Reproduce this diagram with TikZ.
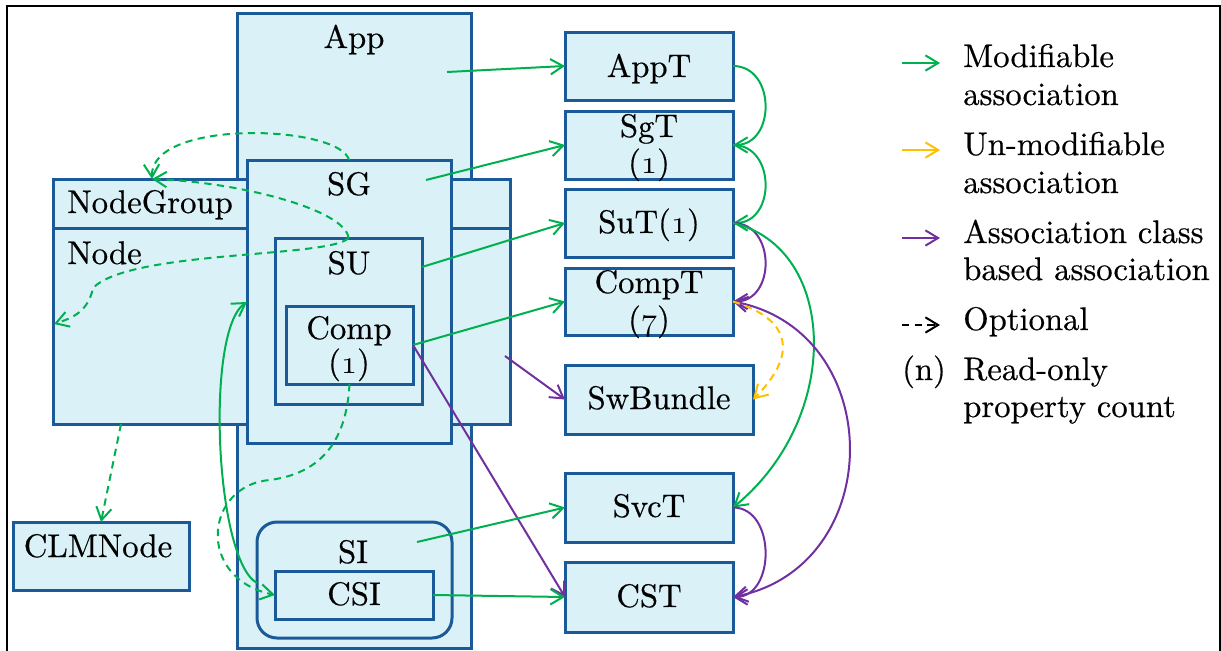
\documentclass[tikz,border=0pt]{standalone}
\usepackage{fontspec}
\setmainfont{lmroman10-regular.otf}[FakeBold=0.5]
\usetikzlibrary{arrows.meta,fit}

\definecolor{boxfill}{HTML}{DAF2F7}
\definecolor{boxline}{HTML}{1B5A98}
\definecolor{assocgreen}{HTML}{00B050}
\definecolor{assocpurple}{HTML}{7030A0}
\definecolor{assocorange}{HTML}{FFC000}

% old-style figures for the read-only property counts
\newcommand{\osnum}[1]{{\usefont{OML}{lmm}{m}{it}#1}}

\tikzset{
  box/.style={draw=boxline, fill=boxfill, line width=2.25pt, inner sep=0pt, outer sep=0pt},
  txt/.style={font=\fontsize{24.5}{28}\selectfont, inner sep=0pt, anchor=base},
  lgd/.style={txt, anchor=base west},
  link/.style={line width=1.5pt, -{Straight Barb[length=9.5pt,width=11.5pt]}},
  modif/.style={link, draw=assocgreen},
  unmodif/.style={link, draw=assocorange},
  assocls/.style={link, draw=assocpurple},
  optional/.style={dash pattern=on 5.5pt off 4pt},
  divider/.style={draw=boxline, line width=2.25pt},
}

\begin{document}
\begin{tikzpicture}[x=0.75pt,y=-0.75pt]
\useasboundingbox (0,0) rectangle (1221,650);

% outer frame (open at the bottom)
\draw[line width=1.5pt] (7,660) -- (7,6) -- (1220,6) -- (1220,660);

% ---- containment boxes ----
\node[box, fit={(237,13) (471,648)}] (app) {};
\node[box, fit={(53,179) (510,424)}] (ng) {};
\draw[divider] (53,228) -- (510,228);
\node[box, fit={(247,160) (451,443)}] (sg) {};
\node[box, fit={(275,238) (422,404)}] (su) {};
\node[box, fit={(286,306) (413,384)}] (comp) {};
\node[box, rounded corners=15pt, fit={(257,522) (452,638)}] (si) {};
\node[box, fit={(275,571) (433,619)}] (csi) {};
\node[box, fit={(13,522) (189,590)}] (clm) {};

% ---- type boxes ----
\node[box, fit={(565,32) (733,100)}] (appt) {};
\node[box, fit={(565,111) (733,179)}] (sgt) {};
\node[box, fit={(565,189) (733,257)}] (sut) {};
\node[box, fit={(565,268) (733,335)}] (compt) {};
\node[box, fit={(565,365) (753,434)}] (swb) {};
\node[box, fit={(565,473) (733,542)}] (svct) {};
\node[box, fit={(565,562) (733,632)}] (cst) {};

% ---- labels ----
\node[txt] (appL) at (354,48) {App};
\node[txt, anchor=base west] (ngL) at (67,213) {NodeGroup};
\node[txt, anchor=base west] (nodeL) at (67,264) {Node};
\node[txt] (sgL) at (349,195) {SG};
\node[txt] (suL) at (349,274) {SU};
\node[txt] (compL) at (349,339) {Comp};
\node[txt] (compN) at (349,373) {(\osnum{1})};
\node[txt] (siL) at (353,563) {SI};
\node[txt] (csiL) at (354,605) {CSI};
\node[txt] (clmL) at (98,557) {CLMNode};

\node[txt] (apptL) at (649,77) {AppT};
\node[txt] (sgtL) at (649,137) {SgT};
\node[txt] (sgtN) at (649,173) {(\osnum{1})};
\node[txt] (sutL) at (649,233) {SuT(\osnum{1})};
\node[txt] (comptL) at (649,293) {CompT};
\node[txt] (comptN) at (649,330) {(\osnum{7})};
\node[txt] (swbL) at (659,409) {SwBundle};
\node[txt] (svctL) at (649,517) {SvcT};
\node[txt] (cstL) at (649,607) {CST};

% ---- free ends of connectors ----
\coordinate (appS) at (447,72);
\coordinate (sgS) at (426,180);
\coordinate (suS) at (422,267);
\coordinate (swS) at (505,356);
\coordinate (siS) at (417,542);
\coordinate (siW) at (257,583);
\coordinate (sgW) at (247,302);
\coordinate (ngTop) at (152,179);
\coordinate (ngLeft) at (54,324);
\coordinate (ngBot) at (121,424);
\coordinate (nodeBend) at (93,288);
\coordinate (compBend) at (270,480);

% ---- associations to the type boxes ----
\draw[modif] (appS) -- (appt.west);
\draw[modif] (sgS) -- (sgt.west);
\draw[modif] (suS) -- (sut.west);
\draw[modif] (comp.east) -- (compt.west);
\draw[assocls] (swS) -- (swb.west);
\draw[assocls] (comp.east) -- (cst.west);
\draw[modif] (siS) -- (svct.west);
\draw[modif] (csi.east) -- (cst.west);

% ---- associations between type boxes ----
\draw[modif] (appt.east) .. controls +(43,0) and +(43,0) .. (sgt.east);
\draw[modif] (sgt.east) .. controls +(43,0) and +(43,0) .. (sut.east);
\draw[assocls] (sut.east) .. controls +(43,0) and +(43,0) .. (compt.east);
\draw[modif] (sut.east) .. controls +(105,25) and +(110,-90) .. (svct.east);
\draw[assocls, {Straight Barb[length=9.5pt,width=11.5pt]}-{Straight Barb[length=9.5pt,width=11.5pt]}]
  (compt.east) .. controls +(155,30) and +(155,-30) .. (cst.east);
\draw[assocls] (svct.east) .. controls +(43,0) and +(43,0) .. (cst.east);
\draw[unmodif, optional] (compt.east) .. controls +(65,20) and +(40,-40) .. (swb.east);

% ---- optional associations on the left ----
\draw[modif, optional] (sg.north) .. controls (340,125) and (150,118) .. (ngTop);
\draw[modif, optional] (su.north) .. controls (346,210) and (240,182) .. (ngTop);
\draw[modif, optional] (su.north) .. controls (330,258) and (130,250) .. (nodeBend)
  .. controls (88,312) and (72,318) .. (ngLeft);
\draw[modif, optional] (ngBot) -- (clm.north);
\draw[modif, optional] (comp.south) .. controls (347,430) and (330,472) .. (compBend)
  .. controls (205,485) and (195,578) .. (csi.west);
\draw[modif] (siW) .. controls (215,560) and (205,330) .. (sgW);

% ---- legend ----
\coordinate (l1a) at (902,63);  \coordinate (l1b) at (940,63);
\coordinate (l2a) at (902,150); \coordinate (l2b) at (940,150);
\coordinate (l3a) at (902,238); \coordinate (l3b) at (940,238);
\coordinate (l4a) at (902,325); \coordinate (l4b) at (940,325);
\draw[modif] (l1a) -- (l1b);
\draw[unmodif] (l2a) -- (l2b);
\draw[assocls] (l3a) -- (l3b);
\draw[link, optional, draw=black] (l4a) -- (l4b);

\node[lgd] (lg1a) at (963,67) {Modifiable};
\node[lgd] (lg1b) at (963,105) {association};
\node[lgd] (lg2a) at (963,155) {Un-modifiable};
\node[lgd] (lg2b) at (963,193) {association};
\node[lgd] (lg3a) at (963,243) {Association class};
\node[lgd] (lg3b) at (963,280) {based association};
\node[lgd] (lg4) at (963,330) {Optional};
\node[txt] (lg5n) at (924,380) {(n)};
\node[lgd] (lg5a) at (963,380) {Read-only};
\node[lgd] (lg5b) at (963,417) {property count};
\end{tikzpicture}
\end{document}
